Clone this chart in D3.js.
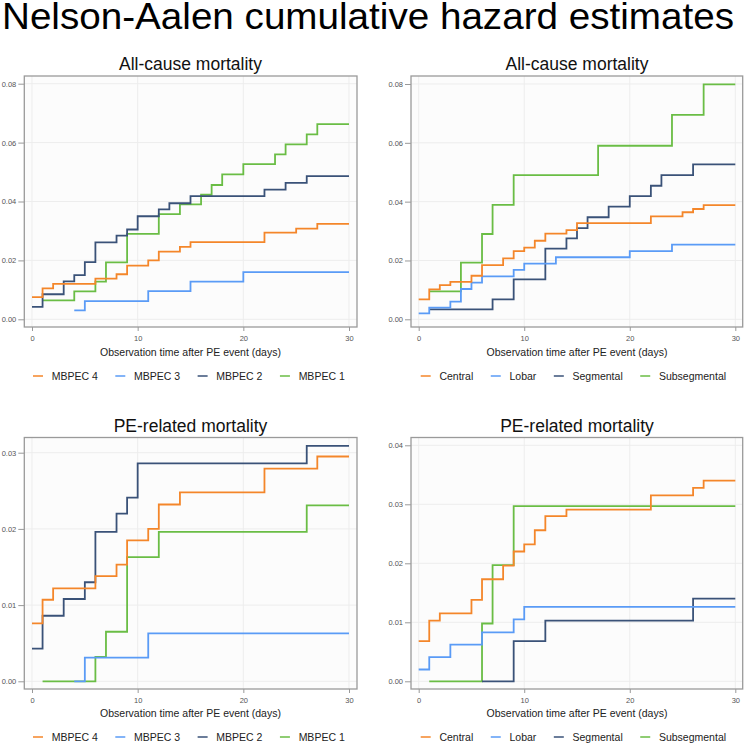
<!DOCTYPE html>
<html><head><meta charset="utf-8">
<script src="https://cdn.jsdelivr.net/npm/d3@7"></script>
<style>body{margin:0;background:#fff} text{font-family:"Liberation Sans",Arial,Helvetica,sans-serif}</style>
</head><body><svg id="c" width="745" height="745"></svg>
<script>
// ---------- DATA ----------
const END_DAY = 30;
const xTicks = [0, 10, 20, 30];
const yTicksAll = [0, 0.02, 0.04, 0.06, 0.08];
const yTicksPeL = [0, 0.01, 0.02, 0.03];
const yTicksPeR = [0, 0.01, 0.02, 0.03, 0.04];

const mbpecNames = ["MBPEC 4", "MBPEC 3", "MBPEC 2", "MBPEC 1"];
const locNames = ["Central", "Lobar", "Segmental", "Subsegmental"];

// All-cause mortality by MBPEC
const mb4AllT = [0,1,2,6,8,9,11,12,14,15,22,25,27];
const mb4AllV = [0.0075,0.0105,0.012,0.0138,0.0153,0.0182,0.020,0.023,0.0246,0.0262,0.0294,0.0308,0.0324];
const mb3AllT = [4,5,11,15,20];
const mb3AllV = [0.003,0.0062,0.0096,0.0128,0.016];
const mb2AllT = [0,1,3,4,5,6,8,9,10,12,13,15,22,24,26];
const mb2AllV = [0.0042,0.0085,0.0129,0.015,0.0194,0.0261,0.0284,0.0305,0.035,0.0373,0.0394,0.0418,0.044,0.0463,0.0486];
const mb1AllT = [1,4,6,7,9,12,14,16,17,18,20,23,24,26,27];
const mb1AllV = [0.0064,0.0095,0.0128,0.0193,0.029,0.0357,0.039,0.0423,0.0456,0.0492,0.0527,0.056,0.0594,0.0628,0.0663];

// All-cause mortality by location
const cenAllT = [0,1,2,3,5,6,8,9,10,11,12,14,15,22,25,26,27];
const cenAllV = [0.0068,0.0102,0.0116,0.0127,0.0148,0.0184,0.0207,0.0232,0.0244,0.0267,0.0291,0.0303,0.0327,0.035,0.0364,0.0375,0.0388];
const lobAllT = [0,1,3,4,5,6,9,10,13,20,24];
const lobAllV = [0.002,0.004,0.006,0.0103,0.0125,0.0146,0.0168,0.0189,0.0211,0.0232,0.0254];
const segAllT = [1,7,9,12,14,15,16,18,20,22,23,26];
const segAllV = [0.0034,0.0068,0.0136,0.024,0.0275,0.031,0.0347,0.0383,0.0419,0.0454,0.049,0.0527];
const subAllT = [1,4,6,7,9,17,24,27];
const subAllV = [0.0095,0.0193,0.029,0.0389,0.049,0.059,0.0695,0.0799];

// PE-related mortality by MBPEC
const mb4PeT = [0,1,2,6,8,9,11,12,14,22,27];
const mb4PeV = [0.0076,0.0107,0.0122,0.0138,0.0153,0.0185,0.020,0.0232,0.0248,0.0279,0.0295];
const mb3PeT = [4,5,11];
const mb3PeV = [0,0.0031,0.0063];
const mb2PeT = [0,1,3,5,6,8,9,10,26];
const mb2PeV = [0.0043,0.0086,0.0108,0.013,0.0196,0.022,0.0241,0.0286,0.0309];
const mb1PeT = [1,6,7,9,12,26];
const mb1PeV = [0,0.0032,0.0065,0.0163,0.0196,0.0231];

// PE-related mortality by location
const cenPeT = [0,1,2,5,6,8,9,10,11,12,14,22,26,27];
const cenPeV = [0.0068,0.0103,0.0115,0.0138,0.0173,0.0196,0.022,0.0232,0.0256,0.028,0.0291,0.0315,0.0328,0.034];
const lobPeT = [0,1,3,6,9,10];
const lobPeV = [0.002,0.0041,0.0062,0.0083,0.0105,0.0126];
const segPeT = [6,9,12,26];
const segPeV = [0,0.0068,0.0103,0.014];
const subPeT = [1,6,7,9];
const subPeV = [0,0.0098,0.0197,0.0297];

// ---------- STYLE / LAYOUT ----------
const colors = ["#F4862A", "#5A9BF6", "#3A5278", "#6ABD45"];

const panels = [
  {title:"All-cause mortality", names:mbpecNames, ymax:0.08, yticks:yTicksAll,
   series:[[mb4AllT,mb4AllV],[mb3AllT,mb3AllV],[mb2AllT,mb2AllV],[mb1AllT,mb1AllV]],
   frame:[24.3,76,357,327], xr:[32,349], yr:[319.3,83.7], titleY:70, xlabY:356, tickLabY:339, legY:376, legX:33},
  {title:"All-cause mortality", names:locNames, ymax:0.08, yticks:yTicksAll,
   series:[[cenAllT,cenAllV],[lobAllT,lobAllV],[segAllT,segAllV],[subAllT,subAllV]],
   frame:[411,76,742.7,327], xr:[418.7,735.3], yr:[319.3,84], titleY:70, xlabY:356, tickLabY:339, legY:376, legX:420.7},
  {title:"PE-related mortality", names:mbpecNames, ymax:0.03, yticks:yTicksPeL,
   series:[[mb4PeT,mb4PeV],[mb3PeT,mb3PeV],[mb2PeT,mb2PeV],[mb1PeT,mb1PeV]],
   frame:[24.3,437.5,357,689], xr:[32,349], yr:[681.3,452.7], titleY:431.7, xlabY:717, tickLabY:701.5, legY:737, legX:33},
  {title:"PE-related mortality", names:locNames, ymax:0.04, yticks:yTicksPeR,
   series:[[cenPeT,cenPeV],[lobPeT,lobPeV],[segPeT,segPeV],[subPeT,subPeV]],
   frame:[411,437.5,742.7,689], xr:[418.7,735.3], yr:[681.3,445.3], titleY:431.7, xlabY:717, tickLabY:701.5, legY:737, legX:420.7}
];

const svg = d3.select("#c");
svg.append("rect").attr("width",745).attr("height",745).attr("fill","#fff");

svg.append("text").attr("x",2).attr("y",29.3).attr("font-size",36)
  .attr("textLength",732).attr("lengthAdjust","spacingAndGlyphs")
  .attr("fill","#000").text("Nelson-Aalen cumulative hazard estimates");

panels.forEach(p => {
  const [fl, ft, fr, fb] = p.frame;
  const x = d3.scaleLinear().domain([0, END_DAY]).range(p.xr);
  const y = d3.scaleLinear().domain([0, p.ymax]).range(p.yr);
  const g = svg.append("g");

  g.append("rect").attr("x",fl).attr("y",ft).attr("width",fr-fl).attr("height",fb-ft).attr("fill","#fcfcfc");

  // gridlines
  g.selectAll(".gx").data(xTicks).enter().append("line")
    .attr("x1",d=>x(d)).attr("x2",d=>x(d)).attr("y1",ft).attr("y2",fb)
    .attr("stroke","#ededed").attr("stroke-width",1);
  g.selectAll(".gy").data(p.yticks).enter().append("line")
    .attr("y1",d=>y(d)).attr("y2",d=>y(d)).attr("x1",fl).attr("x2",fr)
    .attr("stroke","#ededed").attr("stroke-width",1);

  // axes
  const ax = g.append("g").attr("transform",`translate(0,${fb})`)
    .call(d3.axisBottom(x).tickValues(xTicks).tickSize(4).tickPadding(p.tickLabY - fb - 7.5));
  const ay = g.append("g").attr("transform",`translate(${fl},0)`)
    .call(d3.axisLeft(y).tickValues(p.yticks).tickFormat(d3.format(".2f")).tickSize(6).tickPadding(2));
  [ax, ay].forEach(a => {
    a.select(".domain").remove();
    a.selectAll("line").attr("stroke","#999");
    a.selectAll("text").attr("font-size",7.5).attr("fill","#555")
      .attr("font-family",'"Liberation Sans",Arial,sans-serif');
  });

  // frame
  g.append("rect").attr("x",fl).attr("y",ft).attr("width",fr-fl).attr("height",fb-ft)
    .attr("fill","none").attr("stroke","#9a9a9a").attr("stroke-width",1.3);

  // step lines (drawn last series first)
  const line = d3.line().x(d=>x(d[0])).y(d=>y(d[1])).curve(d3.curveStepAfter);
  for (let i = p.series.length - 1; i >= 0; i--) {
    const [ts, vs] = p.series[i];
    const pts = ts.map((t,k)=>[t, vs[k]]);
    pts.push([END_DAY, vs[vs.length-1]]);
    g.append("path").attr("d", line(pts)).attr("fill","none")
      .attr("stroke", colors[i]).attr("stroke-width",1.8);
  }

  const cx = (p.xr[0] + p.xr[1]) / 2;
  g.append("text").attr("x",cx).attr("y",p.titleY).attr("text-anchor","middle")
    .attr("font-size",17.5).attr("fill","#111").text(p.title);
  g.append("text").attr("x",cx).attr("y",p.xlabY).attr("text-anchor","middle")
    .attr("font-size",10.5).attr("fill","#222").text("Observation time after PE event (days)");

  // legend
  let lx = p.legX;
  p.names.forEach((n,i) => {
    g.append("line").attr("x1",lx).attr("x2",lx+10).attr("y1",p.legY).attr("y2",p.legY)
      .attr("stroke",colors[i]).attr("stroke-width",1.5);
    const t = g.append("text").attr("x",lx+18.7).attr("y",p.legY+3.8)
      .attr("font-size",10.5).attr("fill","#222").text(n);
    lx = lx + 18.7 + t.node().getComputedTextLength() + 17.5;
  });
});
</script></body></html>
